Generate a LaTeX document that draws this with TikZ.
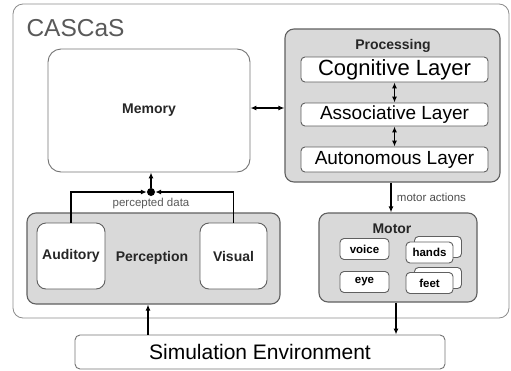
\documentclass[tikz,border=0pt]{standalone}
\usepackage{fontspec}
\setmainfont{Liberation Sans}
\usepackage{tikz}
\usetikzlibrary{arrows.meta, calc}

\definecolor{boxgray}{HTML}{D9D9D9}
\definecolor{edgegray}{HTML}{606060}

\begin{document}
\begin{tikzpicture}[x=1pt, y=-1pt,
		lbl/.style = {font=\fontsize{14}{16}\selectfont\bfseries, text=black!85},
		whitebox/.style = {draw=edgegray, fill=white, rounded corners=4pt, line width=0.9pt},
		graybox/.style = {draw=edgegray, fill=boxgray, rounded corners=9pt, line width=1.1pt},
		layerbox/.style = {whitebox, minimum width=187pt, inner sep=0pt},
		smallbox/.style = {whitebox, minimum height=21pt, inner sep=0pt, font=\fontsize{11.5}{13}\selectfont\bfseries},
		arr/.style = {-{Latex[length=6pt,width=5pt]}, line width=1.6pt},
		dbl/.style = {{Latex[length=6pt,width=5pt]}-{Latex[length=6pt,width=5pt]}, line width=1.6pt}]
		
		\useasboundingbox (0,0) rectangle (511,370);
		
		% CASCaS
		\node[draw=black!45, line width=0.8pt, rounded corners=10pt, minimum width=496pt, minimum height=314pt] (cascas) at (261,161) {};
		\node[anchor=west, text=black!65, font=\fontsize{24.5}{27}\selectfont] (title) at (23,28) {CASCaS};
		
		\node[draw=black!55, line width=0.9pt, rounded corners=13pt, minimum width=202pt, minimum height=123pt, lbl] (memory) at (149,110.5) {Memory};
		
		% Processing
		\node[graybox, minimum width=215pt, minimum height=153pt] (proc) at (392.5,105.5) {};
		\node[lbl] (proclbl) at (393,46) {Processing};
		\node[layerbox, minimum height=25pt, font=\fontsize{22}{23}\selectfont] (cog) at (394.5,69.5) {Cognitive Layer};
		\node[layerbox, minimum height=23pt, font=\fontsize{19}{22}\selectfont] (assoc) at (394.5,114.5) {Associative Layer};
		\node[layerbox, minimum height=25pt, font=\fontsize{19}{22}\selectfont] (auto) at (394.5,159.5) {Autonomous Layer};
		
		\draw[dbl] (cog) -- (assoc);
		\draw[dbl] (assoc) -- (auto);
		\draw[dbl] (memory.east |- 0,108) -- (proc.west |- 0,108);
		
		% Motor
		\node[graybox, minimum width=158pt, minimum height=89pt] (motor) at (398,257.5) {};
		\node[lbl] (motorlbl) at (392,229) {Motor};
		\node[smallbox, minimum width=49pt] (voice) at (364.5,249) {voice};
		\node[smallbox, minimum width=49pt] (eye) at (364.5,282) {eye};
		\node[smallbox, minimum width=47pt] (handsb) at (438,247) {};
		\node[smallbox, minimum width=47pt] (hands) at (429.5,252.5) {hands};
		\node[smallbox, minimum width=47pt] (feetb) at (438,278) {};
		\node[smallbox, minimum width=47pt] (feet) at (429.5,283) {feet};
		
		\coordinate (ma) at (391,0);
		\draw[arr, line width=1.2pt] (proc.south -| ma) -- node[right, xshift=2pt, text=black!70, font=\fontsize{11.5}{13}\selectfont]{motor actions} (motor.north -| ma);
		
		% Perception
		\node[graybox, minimum width=253pt, minimum height=91pt] (perc) at (153.5,258.5) {};
		\node[lbl] (perclbl) at (152,258) {Perception};
		\node[whitebox, rounded corners=9pt, minimum width=68pt, minimum height=66pt, inner sep=0pt, lbl] (auditory) at (71,256) {Auditory};
		\node[whitebox, rounded corners=9pt, minimum width=67pt, minimum height=66pt, inner sep=0pt, lbl] (visual) at (233.5,256) {Visual};
		
		\node[circle, fill=black, inner sep=0pt, minimum size=8pt] (dot) at (151,192) {};
		\draw[arr] (auditory.north) |- (dot);
		\draw[arr] (visual.north) |- (dot);
		\draw[arr] (dot) -- (memory.south -| dot);
		\node[text=black!65, font=\fontsize{11.5}{13}\selectfont] (pdata) at (151,204) {percepted data};
		
		% Simulation Environment
		\node[draw=black!55, line width=0.9pt, rounded corners=5pt, minimum width=370pt, minimum height=34pt, font=\fontsize{21}{23}\selectfont] (sim) at (260,352) {Simulation Environment};
		
		\coordinate (sp) at (148,0);
		\coordinate (ms) at (396,0);
		\draw[arr] (sim.north -| sp) -- (perc.south -| sp);
		\draw[arr] (motor.south -| ms) -- (sim.north -| ms);
	\end{tikzpicture}
\end{document}
